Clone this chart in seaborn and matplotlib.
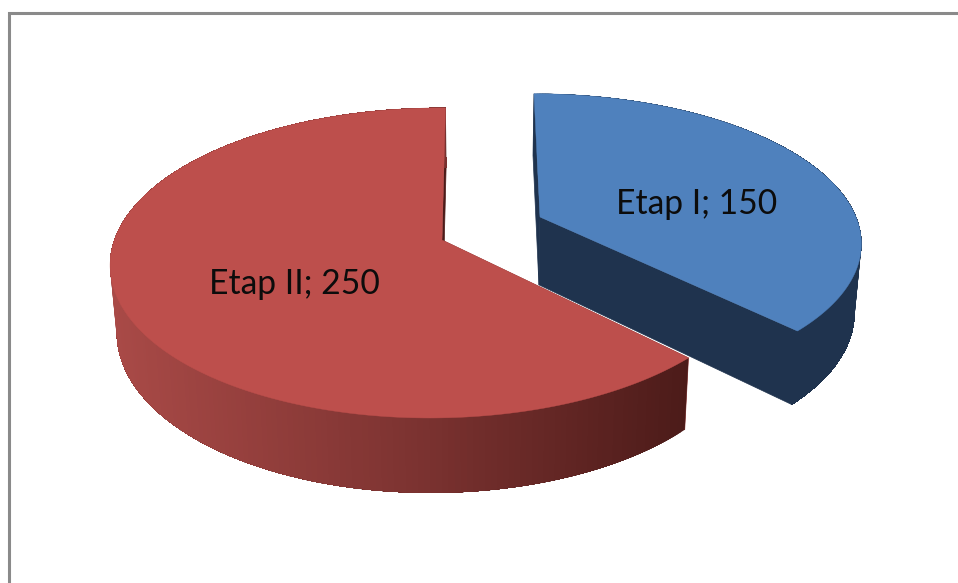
import numpy as np
import matplotlib
matplotlib.use("Agg")
import matplotlib.pyplot as plt
import seaborn as sns

# Data
categories = ["Etap I", "Etap II"]
values = [150, 250]

# Colours
TOP_COLORS = ["#4f81bd", "#bd4f4c"]
SIDE_COLORS = [["#1f334e", "#1f334e"], ["#a94a47", "#7f3432", "#4c1b19"]]
WALL_COLORS = ["#1f334e", "#8f3a38"]

# Perspective settings for each slice, in pixels
# cx, cy: apex, a: width, k: height, w/t: tilt, s: skew, depth: side height
SLICE_GEOM = [
    dict(cx=540, cy=217, a=316, k=143, w=0.16, t=0.0, s=-7, depth=69),
    dict(cx=442, cy=240, a=321, k=151.6, w=0.148, t=0.02, s=4, depth=66),
]
LABEL_POS = [(697, 204.5), (294, 284.5)]


def project(theta, g):
    # theta is measured clockwise from 12 o'clock
    u, v = np.sin(theta), np.cos(theta)
    d = 1 + g["w"] * v + g["t"] * u
    return g["cx"] + (g["a"] * u + g["s"] * v) / d, g["cy"] - g["k"] * v / d


def drop(x, y, depth):
    # bottom face of the pie: a bit narrower, and deeper towards the viewer
    return 480 + (x - 480) * 0.982, y + depth + (y - 240) * 0.05


def draw_slice(ax, start, end, g, top, side, wall):
    th = np.linspace(start, end, 240)
    x, y = project(th, g)
    xb, yb = drop(x, y, g["depth"])
    ax0, ay0 = g["cx"], g["cy"]
    bx0, by0 = drop(ax0, ay0, g["depth"])

    # walls along the two cut edges
    for i in (0, -1):
        col = wall if i == 0 else side[-1]
        ax.fill([ax0, x[i], xb[i], bx0], [ay0, y[i], yb[i], by0],
                color=col, lw=0.5)

    # outer rim, shaded left to right; each step paints to the end of the arc
    # so no seams show between the steps
    shades = sns.blend_palette(side, n_colors=256)
    pos = np.clip((x - 111) / (690 - 111), 0, 1)
    for i in range(len(th) - 1):
        col = shades[int(pos[i] * 255)]
        ax.fill(np.r_[x[i:], xb[i:][::-1]], np.r_[y[i:], yb[i:][::-1]],
                color=col, lw=0)

    # top face
    ax.fill(np.r_[ax0, x], np.r_[ay0, y], color=top, lw=0.3)


sns.set_theme(style="white")
plt.rcParams["font.family"] = ["Lato", "DejaVu Sans"]

fig = plt.figure(figsize=(9.58, 5.83), dpi=100)
ax = fig.add_axes([0, 0, 1, 1])
ax.set_xlim(0, 958)
ax.set_ylim(583, 0)
ax.axis("off")

# chart frame, only left and top fall inside the crop
ax.plot([9, 9, 960], [590, 13, 13], color="#8a8a8a", lw=2.2,
        solid_joinstyle="miter")

angles = np.cumsum([0] + values) / sum(values) * 2 * np.pi
for i in range(len(values)):
    draw_slice(ax, angles[i], angles[i + 1], SLICE_GEOM[i],
               TOP_COLORS[i], SIDE_COLORS[i], WALL_COLORS[i])

for name, val, (tx, ty) in zip(categories, values, LABEL_POS):
    ax.text(tx, ty, f"{name}; {val}", ha="center", va="center",
            fontsize=24.2, color="#0c0c0c", zorder=6)

fig.savefig("out.png", dpi=100)
